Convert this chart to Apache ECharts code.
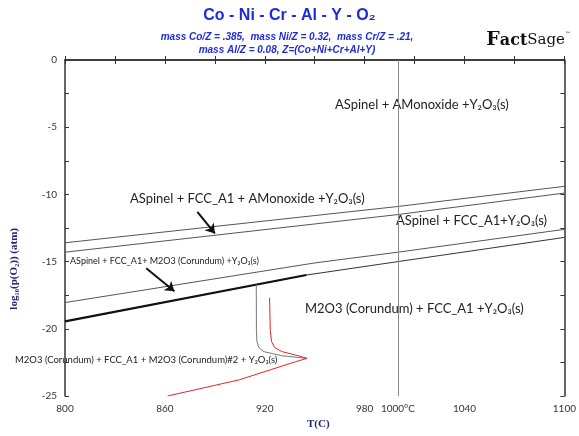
<!DOCTYPE html>
<html>
<head>
<meta charset="utf-8">
<script src="https://cdn.jsdelivr.net/npm/echarts@6.0.0/dist/echarts.min.js"></script>
<style>
  html, body { margin: 0; padding: 0; background: #fff; }
  #main { width: 579px; height: 436px; }
</style>
</head>
<body>
<div id="main"></div>
<script>
// phase boundaries, [T(C), log10 pO2]
var line1 = [[800, -13.6], [1000, -10.9], [1100, -9.4]];
var line2 = [[800, -14.3], [1000, -11.5], [1100, -9.9]];
var line3 = [[800, -18.05], [950, -15.1], [1000, -14.3], [1100, -12.6]];
var line4 = [[800, -19.45], [945, -16.0], [1000, -15.0], [1100, -13.2]];
var greyCurve = [[914.9, -16.7], [915, -20.1], [915.3, -20.95], [916.5, -21.4], [919.5, -21.7], [930, -22.0], [945.4, -22.2]];
var redCurve = [[922.9, -17.7], [923.3, -20.1], [924.1, -20.95], [926, -21.4], [930.4, -21.7], [940, -22.0], [945.4, -22.2],
                [938.5, -22.45], [904.6, -23.8], [861.6, -25]];
var arrow1 = [[879.5, -11.3], [890, -12.9]];
var arrow2 = [[848.8, -15.5], [865.7, -17.2]];
var markT = 1000;

var chart = echarts.init(document.getElementById('main'));

var blue = '#1f2bd6';
var navy = '#24247a';
var labelFont = 'Lato, "Open Sans", sans-serif';

function phase(txt, x, y, size) {
  return {
    type: 'text', left: x, top: y,
    style: { text: txt, fontFamily: labelFont, fontSize: size, fill: '#222' }
  };
}

function arrowLine(pts) {
  return [{ coord: pts[0] }, { coord: pts[1] }];
}

var option = {
  animation: false,
  backgroundColor: '#fff',
  grid: { left: 65, right: 12, top: 60, bottom: 40 },
  xAxis: [{
    type: 'value', min: 800, max: 1100, interval: 30,
    axisLine: { lineStyle: { color: '#333', width: 1.5 } },
    axisTick: { inside: true, length: 4, lineStyle: { color: '#333' } },
    axisLabel: { interval: 1, color: '#333', fontFamily: labelFont, fontSize: 10, margin: 8,
      formatter: function (v) { return (v - 800) % 60 === 0 ? String(v) : ''; } },
    splitLine: { show: false }
  }, {
    type: 'value', min: 800, max: 1100, interval: 30, position: 'top',
    axisLine: { show: true, lineStyle: { color: '#333', width: 1.5 } },
    axisTick: { show: true, inside: true, length: 4, lineStyle: { color: '#333' } },
    axisLabel: { show: false }, splitLine: { show: false }
  }],
  yAxis: [{
    type: 'value', min: -25, max: 0, interval: 2.5,
    axisLine: { show: true, lineStyle: { color: '#333', width: 1.5 } },
    axisTick: { show: true, inside: true, length: 4, lineStyle: { color: '#333' } },
    axisLabel: { color: '#333', fontFamily: labelFont, fontSize: 10, margin: 8,
      formatter: function (v) { return v % 5 === 0 ? String(v) : ''; } },
    splitLine: { show: false }
  }, {
    type: 'value', min: -25, max: 0, interval: 2.5, position: 'right',
    axisLine: { show: true, lineStyle: { color: '#333', width: 1.5 } },
    axisTick: { show: true, inside: true, length: 4, lineStyle: { color: '#333' } },
    axisLabel: { show: false }, splitLine: { show: false }
  }],
  series: [
    { type: 'line', data: line1, symbol: 'none', lineStyle: { color: '#555', width: 1 } },
    { type: 'line', data: line2, symbol: 'none', lineStyle: { color: '#555', width: 1 } },
    { type: 'line', data: line3, symbol: 'none', lineStyle: { color: '#555', width: 1 } },
    { type: 'line', data: line4, symbol: 'none', lineStyle: { color: '#333', width: 1 } },
    { type: 'line', data: line4.slice(0, 2), symbol: 'none', lineStyle: { color: '#111', width: 2.2 } },
    { type: 'line', data: greyCurve, symbol: 'none', lineStyle: { color: '#777', width: 1 } },
    { type: 'line', data: redCurve, symbol: 'none', lineStyle: { color: '#e0262a', width: 1 } },
    {
      type: 'line', data: [], symbol: 'none',
      markLine: {
        silent: true, symbol: ['none', 'arrow'], symbolSize: 9,
        lineStyle: { color: '#111', width: 2, type: 'solid' },
        label: { show: false },
        data: [arrowLine(arrow1), arrowLine(arrow2)]
      }
    },
    {
      type: 'line', data: [], symbol: 'none',
      markLine: {
        silent: true, symbol: 'none',
        lineStyle: { color: '#8a8a8a', width: 1, type: 'solid' },
        label: { show: true, position: 'start', distance: 8, formatter: '1000°C',
          color: '#333', fontFamily: labelFont, fontSize: 10 },
        data: [{ xAxis: markT }]
      }
    }
  ],
  graphic: [
    { type: 'text', left: 'center', top: 8,
      style: { text: 'Co - Ni - Cr - Al - Y - O₂', fontFamily: 'Liberation Sans, Arial', fontWeight: 'bold', fontSize: 16, fill: blue } },
    { type: 'text', x: 287, y: 30,
      style: { text: 'mass Co/Z = .385,  mass Ni/Z = 0.32,  mass Cr/Z = .21,\nmass Al/Z = 0.08, Z=(Co+Ni+Cr+Al+Y)', align: 'center',
        verticalAlign: 'top', lineHeight: 13.5, fontFamily: 'Liberation Sans, Arial', fontStyle: 'italic', fontWeight: 'bold', fontSize: 10, fill: blue } },
    { type: 'text', right: 8, top: 31,
      style: { text: '{f|F}{a|act}{s|Sage}{t|™}', rich: {
        f: { fontFamily: 'DejaVu Serif', fontWeight: 'bold', fontSize: 19, fill: '#111' },
        a: { fontFamily: 'DejaVu Serif', fontWeight: 'bold', fontSize: 16, fill: '#111' },
        s: { fontFamily: 'DejaVu Serif', fontSize: 15, fill: '#111' },
        t: { fontFamily: 'DejaVu Sans', fontSize: 6, fill: '#111', verticalAlign: 'top' } } } },
    { type: 'text', left: 9, top: 228, rotation: Math.PI / 2, originX: 0, originY: 0,
      style: { text: 'log₁₀(p(O₂)) (atm)', fontFamily: 'Liberation Serif', fontWeight: 'bold', fontSize: 11, fill: navy,
        align: 'center', verticalAlign: 'middle' } },
    { type: 'text', left: 307, top: 419,
      style: { text: 'T(C)', fontFamily: 'Liberation Serif', fontWeight: 'bold', fontSize: 11, fill: navy } },
    phase('ASpinel + AMonoxide +Y₂O₃(s)', 335, 98, 13),
    phase('ASpinel + FCC_A1 + AMonoxide +Y₂O₃(s)', 130, 192, 13),
    phase('ASpinel + FCC_A1+Y₂O₃(s)', 396, 214, 13),
    phase('ASpinel + FCC_A1+ M2O3 (Corundum) +Y₂O₃(s)', 70, 257, 9),
    phase('M2O3 (Corundum) + FCC_A1 +Y₂O₃(s)', 305, 302, 13),
    phase('M2O3 (Corundum) + FCC_A1 + M2O3 (Corundum)#2 + Y₂O₃(s)', 15, 355, 9.5)
  ]
};

chart.setOption(option);
</script>
</body>
</html>
